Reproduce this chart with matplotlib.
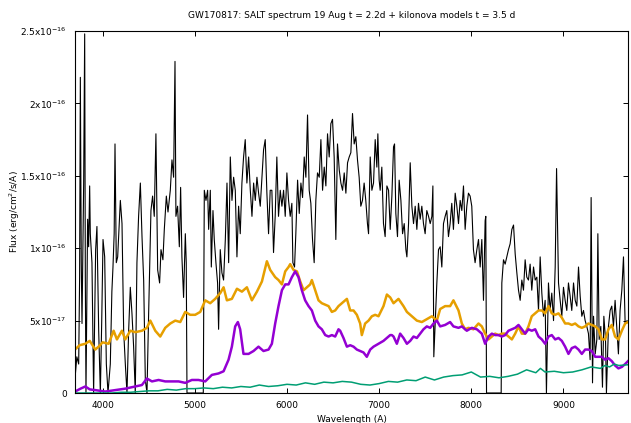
import numpy as np
import matplotlib
matplotlib.use('Agg')
import matplotlib.pyplot as plt

# SALT spectrum, wavelength in A, flux in 1e-17 erg/cm2/s/A
salt_wl = [3700, 3720, 3740, 3750, 3758, 3768, 3776, 3794, 3805, 3812, 3819, 3837, 3848, 3859,
           3866, 3884, 3902, 3915, 3924, 3938, 3957, 3975, 3990, 4004, 4022, 4040, 4058, 4083,
           4100, 4112, 4125, 4134, 4148, 4163, 4177, 4192, 4210, 4228, 4246, 4264, 4282, 4300,
           4318, 4336, 4354, 4372, 4390, 4409, 4427, 4445, 4463, 4481, 4499, 4524, 4542, 4560,
           4578, 4597, 4618, 4633, 4654, 4669, 4691, 4709, 4734, 4752, 4770, 4785, 4795, 4813,
           4832, 4846, 4860, 4878, 4897, 4907, 4915, 4950, 5000, 5050, 5092,
           5103, 5121, 5139, 5150, 5168, 5179, 5197, 5211, 5229, 5247, 5258, 5276, 5294, 5312,
           5331, 5349, 5367, 5385, 5403, 5421, 5439, 5457, 5475, 5493, 5511, 5529, 5547, 5565,
           5584, 5602, 5620, 5638, 5656, 5674, 5692, 5710, 5728, 5746, 5764, 5782, 5800, 5818,
           5836, 5854, 5872, 5890, 5908, 5927, 5945, 5963, 5981, 5999, 6017, 6035, 6053, 6064,
           6082, 6096, 6115, 6133, 6151, 6169, 6187, 6205, 6223, 6241, 6259, 6277, 6295, 6313,
           6331, 6350, 6368, 6386, 6404, 6422, 6440, 6458, 6476, 6494, 6512, 6530, 6548, 6567,
           6585, 6603, 6621, 6639, 6657, 6675, 6693, 6711, 6729, 6747, 6765, 6783, 6801, 6819,
           6837, 6855, 6873, 6885, 6903, 6921, 6939, 6957, 6975, 6986, 7000, 7011, 7029, 7047,
           7065, 7084, 7102, 7120, 7138, 7156, 7167, 7181, 7199, 7217, 7236, 7254, 7272, 7290,
           7301, 7319, 7337, 7355, 7373, 7391, 7409, 7427, 7445, 7463, 7481, 7499, 7517, 7536,
           7554, 7572, 7583, 7593, 7608, 7626, 7644, 7662, 7680, 7698, 7716, 7734, 7752, 7770,
           7788, 7806, 7825, 7843, 7861, 7879, 7897, 7915, 7933, 7951, 7969, 7987, 8005, 8023,
           8041, 8060, 8078, 8096, 8114, 8132, 8150, 8157, 8165, 8200, 8250, 8300, 8324,
           8331, 8349, 8367, 8385, 8403, 8421, 8440, 8458, 8476, 8494, 8512, 8530, 8548, 8566,
           8584, 8602, 8620, 8638, 8656, 8675, 8693, 8711, 8729, 8747, 8765, 8783, 8801, 8815,
           8837, 8855, 8873, 8892, 8910, 8925, 8946, 8964, 8982, 9000, 9018, 9036, 9054, 9072,
           9090, 9109, 9127, 9145, 9163, 9181, 9199, 9217, 9235, 9253, 9271, 9289, 9300, 9315,
           9326, 9344, 9362, 9373, 9387, 9405, 9423, 9438, 9456, 9466, 9488, 9506, 9524, 9542,
           9560, 9578, 9596, 9614, 9633, 9651, 9669, 9690]
salt_flux = [1.0, 2.5, 2.0, 8.0, 21.8, 9.0, 4.8, 14.5, 24.8, 8.0, 0.0, 12.0, 10.1, 14.3,
             11.0, 9.0, 0.0, 6.0, 9.9, 11.5, 4.3, 0.0, 5.0, 10.6, 9.4, 2.0, 0.0, 2.0,
             7.0, 8.7, 11.0, 17.2, 9.0, 9.4, 11.3, 13.3, 11.7, 4.3, 2.0, 0.0, 4.3, 7.3,
             5.5, 3.2, 0.0, 9.0, 12.2, 14.5, 10.8, 7.8, 0.9, 0.0, 5.5, 12.6, 13.6, 12.2,
             17.9, 8.5, 7.6, 9.9, 9.2, 11.3, 13.6, 12.5, 14.0, 16.1, 14.9, 22.9, 12.2, 12.9,
             10.1, 14.2, 9.4, 6.6, 11.0, 9.0, 0.0, 0.0, 0.0, 0.0, 0.0,
             14.0, 13.3, 14.0, 11.3, 14.0, 8.7, 12.6, 10.6, 9.0, 7.6, 4.4, 9.9, 8.3, 7.8,
             10.6, 14.5, 9.0, 16.3, 13.3, 14.9, 14.0, 9.4, 12.9, 11.0, 14.5, 16.3, 17.5, 14.5,
             16.3, 14.0, 12.2, 14.5, 13.3, 14.9, 13.8, 12.9, 14.9, 16.8, 17.5, 13.8, 11.0, 14.0,
             14.0, 9.7, 12.2, 16.3, 12.2, 14.0, 12.9, 14.0, 12.2, 15.2, 13.3, 12.2, 13.1, 9.0,
             8.7, 11.0, 14.7, 12.4, 14.5, 13.5, 16.3, 14.9, 19.2, 14.0, 13.1, 10.6, 9.0, 13.3,
             15.2, 14.9, 17.5, 14.0, 15.6, 14.3, 17.9, 16.3, 18.6, 18.9, 16.3, 10.6, 17.2, 15.4,
             14.5, 14.0, 15.2, 13.8, 15.9, 16.3, 16.6, 19.3, 17.2, 17.7, 16.1, 14.9, 12.9, 13.3,
             14.5, 13.3, 11.7, 11.0, 16.3, 14.0, 14.5, 17.5, 15.6, 17.9, 14.7, 14.0, 15.6, 11.7,
             10.8, 14.3, 14.0, 11.3, 13.6, 17.0, 17.2, 12.4, 10.8, 14.7, 13.3, 11.0, 11.7, 9.9,
             9.4, 11.7, 15.9, 12.9, 11.7, 12.9, 11.3, 13.1, 12.0, 12.9, 11.7, 11.0, 12.6, 12.2,
             11.7, 12.2, 14.3, 2.5, 4.8, 7.6, 9.9, 10.1, 8.7, 11.7, 12.2, 12.6, 10.8, 11.7,
             13.1, 11.3, 13.8, 12.9, 11.7, 13.3, 12.6, 14.3, 11.3, 12.9, 13.8, 13.6, 12.9, 9.9,
             9.0, 9.9, 10.6, 8.7, 10.6, 6.4, 11.9, 12.2, 0.0, 0.0, 0.0, 0.0, 0.0,
             7.6, 9.2, 8.9, 9.4, 9.9, 10.3, 11.3, 11.6, 9.6, 8.3, 7.1, 6.4, 7.8, 7.1,
             9.2, 8.0, 7.8, 8.9, 7.1, 8.7, 7.8, 8.0, 5.7, 9.4, 6.9, 5.3, 6.4, 0.0,
             7.6, 5.7, 6.9, 5.0, 8.7, 15.5, 7.6, 6.4, 5.3, 7.3, 6.4, 5.7, 7.6, 6.7,
             5.7, 7.6, 6.4, 6.0, 8.7, 6.7, 5.3, 5.7, 5.0, 4.6, 4.1, 2.3, 13.5, 0.7,
             5.3, 2.7, 3.7, 11.0, 3.7, 4.6, 0.4, 5.3, 3.7, 0.0, 4.6, 5.7, 6.0, 4.6,
             6.4, 4.6, 2.7, 5.7, 7.1, 9.4, 4.8, 5.0]

# kilonova model 1 (orange)
kn1_wl = [3700, 3750, 3812, 3860, 3920, 3956, 4000, 4065, 4119, 4155, 4209, 4245, 4300, 4354,
          4426, 4480, 4517, 4571, 4625, 4679, 4734, 4788, 4842, 4896, 4950, 5004, 5059, 5113,
          5167, 5221, 5276, 5312, 5348, 5402, 5457, 5511, 5565, 5619, 5674, 5728, 5782, 5818,
          5872, 5908, 5945, 5981, 6017, 6035, 6071, 6108, 6144, 6180, 6216, 6252, 6270, 6306,
          6342, 6378, 6415, 6451, 6487, 6523, 6559, 6595, 6631, 6650, 6686, 6722, 6758, 6794,
          6812, 6848, 6885, 6921, 6957, 6993, 7047, 7084, 7120, 7156, 7210, 7264, 7301, 7355,
          7409, 7463, 7517, 7572, 7626, 7662, 7716, 7770, 7806, 7861, 7897, 7933, 7969, 8023,
          8078, 8114, 8150, 8186, 8223, 8259, 8295, 8331, 8367, 8403, 8440, 8476, 8512, 8548,
          8584, 8620, 8656, 8693, 8729, 8765, 8801, 8837, 8873, 8910, 8946, 8982, 9018, 9054,
          9090, 9127, 9163, 9199, 9235, 9271, 9307, 9344, 9380, 9416, 9452, 9488, 9524, 9560,
          9596, 9633, 9669, 9700]
kn1_flux = [3.0, 3.3, 3.4, 3.6, 3.0, 3.2, 3.5, 3.4, 4.3, 3.7, 4.3, 3.7, 4.3, 4.2,
            4.3, 4.5, 5.0, 4.3, 3.9, 4.5, 4.8, 5.0, 4.9, 5.6, 5.4, 5.4, 5.6, 6.4,
            6.2, 6.5, 6.9, 7.3, 6.4, 6.5, 7.2, 7.0, 7.3, 6.4, 7.0, 7.7, 9.1, 8.5,
            8.0, 7.8, 7.5, 8.4, 8.7, 8.9, 8.5, 8.4, 7.7, 7.1, 7.3, 7.5, 7.8, 7.1,
            6.4, 6.2, 6.1, 6.0, 5.6, 5.7, 6.0, 6.2, 6.4, 6.5, 5.7, 5.7, 5.4, 4.8,
            4.0, 4.8, 5.0, 5.3, 5.4, 5.3, 6.0, 6.8, 6.6, 6.2, 6.5, 6.0, 5.6, 5.3,
            5.0, 4.9, 5.1, 5.3, 5.0, 5.8, 6.0, 6.0, 6.4, 5.7, 4.8, 4.4, 4.5, 4.4,
            4.8, 4.6, 4.1, 3.7, 3.9, 4.1, 4.0, 4.1, 4.1, 3.9, 3.7, 4.1, 4.6, 4.1,
            4.1, 4.6, 5.3, 5.5, 5.7, 5.7, 5.5, 6.0, 5.5, 5.4, 5.5, 5.2, 4.8, 4.8,
            4.7, 4.8, 4.6, 4.5, 4.6, 4.8, 4.7, 4.6, 4.4, 3.7, 3.7, 4.4, 4.7, 3.9,
            3.7, 4.3, 4.8, 4.9]

# kilonova model 2 (purple)
kn2_wl = [3700, 3760, 3812, 3860, 3920, 4029, 4137, 4245, 4354, 4426, 4480, 4535, 4607, 4679,
          4751, 4824, 4896, 4968, 5040, 5113, 5185, 5257, 5312, 5366, 5402, 5438, 5467, 5492,
          5528, 5583, 5637, 5691, 5745, 5800, 5836, 5872, 5908, 5945, 5981, 6017, 6053, 6089,
          6125, 6161, 6197, 6234, 6270, 6306, 6342, 6378, 6415, 6451, 6487, 6523, 6559, 6577,
          6613, 6650, 6686, 6722, 6758, 6794, 6830, 6866, 6903, 6939, 6993, 7047, 7084, 7120,
          7138, 7156, 7192, 7228, 7264, 7301, 7337, 7373, 7409, 7445, 7481, 7517, 7554, 7590,
          7626, 7662, 7716, 7770, 7806, 7861, 7897, 7951, 8005, 8060, 8114, 8150, 8186, 8223,
          8259, 8295, 8331, 8367, 8403, 8440, 8476, 8512, 8548, 8584, 8620, 8656, 8693, 8729,
          8765, 8801, 8837, 8873, 8910, 8946, 8982, 9018, 9054, 9090, 9127, 9163, 9199, 9235,
          9271, 9307, 9344, 9380, 9416, 9452, 9488, 9524, 9560, 9596, 9633, 9669, 9700]
kn2_flux = [0.1, 0.3, 0.45, 0.25, 0.2, 0.1, 0.2, 0.3, 0.45, 0.55, 1.0, 0.8, 0.9, 0.8,
            0.8, 0.8, 0.7, 0.9, 0.9, 0.8, 1.25, 1.35, 1.5, 2.3, 3.2, 4.6, 4.9, 4.4,
            2.7, 2.7, 2.9, 3.2, 2.9, 3.0, 3.4, 4.8, 6.0, 7.1, 7.5, 7.5, 8.0, 8.4,
            8.0, 7.1, 6.4, 6.0, 5.7, 5.0, 4.6, 4.4, 4.0, 3.9, 4.0, 3.9, 4.4, 4.3,
            3.8, 3.2, 3.3, 3.2, 3.0, 2.9, 2.8, 2.5, 3.0, 3.2, 3.4, 3.6, 3.8, 4.0,
            4.0, 3.9, 3.4, 4.1, 3.8, 3.4, 3.6, 3.9, 3.8, 4.1, 4.4, 4.6, 4.5, 4.8,
            5.0, 4.6, 4.7, 4.9, 4.6, 4.5, 4.6, 4.3, 4.5, 4.4, 4.1, 3.4, 3.9, 4.1,
            4.0, 4.0, 3.9, 4.0, 4.3, 4.4, 4.5, 4.7, 4.4, 4.1, 4.4, 4.3, 4.4, 3.9,
            3.7, 3.4, 3.9, 4.0, 3.7, 3.8, 3.6, 3.2, 2.7, 3.1, 3.2, 3.0, 2.7, 3.0,
            3.0, 2.9, 2.5, 2.5, 2.5, 2.3, 2.4, 2.2, 1.9, 1.7, 1.8, 2.0, 2.2]

# kilonova model 3 (green)
kn3_wl = [3700, 3800, 3900, 4000, 4100, 4200, 4300, 4400, 4500, 4600, 4700, 4800, 4900, 5000,
          5100, 5200, 5300, 5400, 5500, 5600, 5700, 5800, 5900, 6000, 6100, 6200, 6300, 6400,
          6500, 6600, 6700, 6800, 6900, 7000, 7100, 7200, 7300, 7400, 7500, 7600, 7700, 7800,
          7900, 8000, 8100, 8200, 8300, 8400, 8500, 8600, 8700, 8750, 8800, 8900, 9000, 9100,
          9200, 9300, 9400, 9450, 9500, 9550, 9600, 9700]
kn3_flux = [0.0, 0.0, 0.0, 0.0, 0.0, 0.05, 0.05, 0.1, 0.15, 0.15, 0.25, 0.2, 0.3, 0.3,
            0.35, 0.3, 0.4, 0.35, 0.45, 0.4, 0.55, 0.45, 0.5, 0.6, 0.55, 0.7, 0.6, 0.75,
            0.7, 0.8, 0.75, 0.6, 0.55, 0.65, 0.8, 0.75, 0.9, 0.85, 1.1, 0.9, 1.1, 1.2,
            1.25, 1.45, 1.1, 1.15, 1.05, 1.15, 1.3, 1.6, 1.4, 1.7, 1.45, 1.5, 1.4, 1.45,
            1.6, 1.8, 1.7, 1.9, 1.8, 2.0, 1.9, 1.95]

yticks = [0, 5e-17, 1e-16, 1.5e-16, 2e-16, 2.5e-16]
ytick_labels = ['0', r'5x10$^{-17}$', r'1x10$^{-16}$', r'1.5x10$^{-16}$', r'2x10$^{-16}$', r'2.5x10$^{-16}$']
xticks = [4000, 5000, 6000, 7000, 8000, 9000]

plt.rcParams['font.family'] = 'DejaVu Sans'
plt.rcParams['font.size'] = 6.5

fig = plt.figure(figsize=(6.31, 4.23), dpi=100)
ax = fig.add_axes([75 / 631, 30 / 423, 553 / 631, 362 / 423])

scale = 1e-17
ax.plot(salt_wl, np.array(salt_flux) * scale, color='black', lw=0.8)
ax.plot(kn1_wl, np.array(kn1_flux) * scale, color='#e69f00', lw=1.8)
ax.plot(kn2_wl, np.array(kn2_flux) * scale, color='#9400d3', lw=1.8)
ax.plot(kn3_wl, np.array(kn3_flux) * scale, color='#009e73', lw=1.1)

ax.set_xlim(3700, 9700)
ax.set_ylim(0, 2.5e-16)
ax.set_xticks(xticks)
ax.set_yticks(yticks)
ax.set_yticklabels(ytick_labels)
ax.tick_params(direction='in', length=3.5, width=0.7, top=True, right=True, pad=6)
for s in ax.spines.values():
    s.set_linewidth(0.8)

fig.text(352 / 631, 1 - 15 / 423, 'GW170817: SALT spectrum 19 Aug t = 2.2d + kilonova models t = 3.5 d',
         ha='center', va='center')
fig.text(15 / 631, 1 - 212 / 423, r'Flux (erg/cm$^2$/s/A)', rotation=90, ha='center', va='center')
fig.text(352 / 631, 1 - 419 / 423, 'Wavelength (A)', ha='center', va='center')

fig.savefig('out.png', dpi=100)
